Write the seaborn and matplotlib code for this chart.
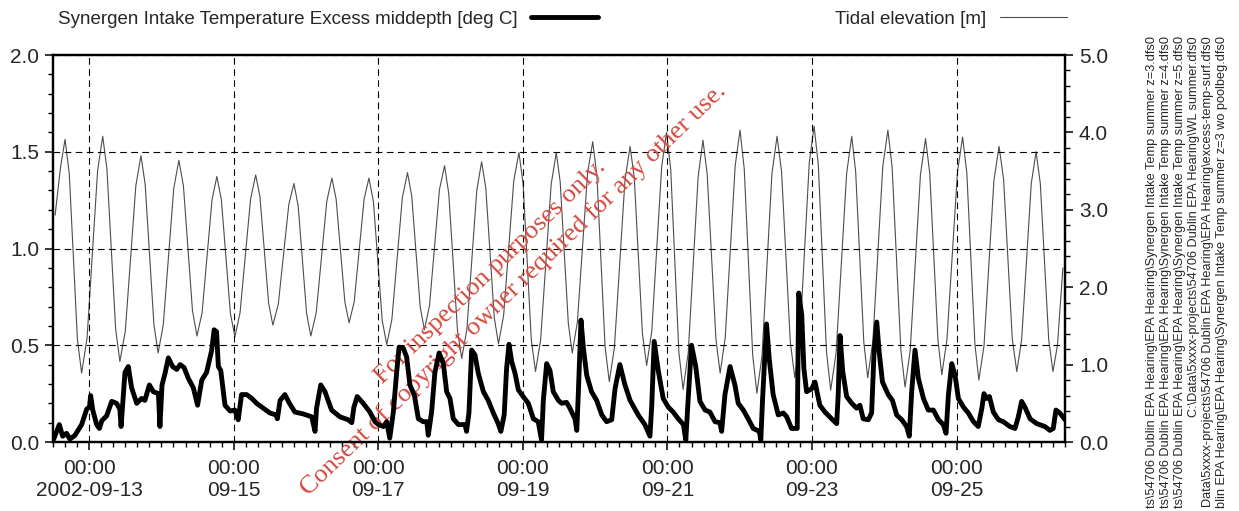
import matplotlib
matplotlib.use("Agg")
import matplotlib.pyplot as plt
import matplotlib.dates as mdates
from matplotlib.ticker import MultipleLocator, FixedLocator, FixedFormatter, FormatStrFormatter
import pandas as pd
import seaborn as sns

# time axis: hours counted from the left edge of the plot
START = pd.Timestamp("2002-09-12 12:00")
END = pd.Timestamp("2002-09-26 12:00")

temp_label = "Synergen Intake Temperature Excess middepth [deg C]"
tide_label = "Tidal elevation [m]"

# intake temperature excess (left axis)
temp_hours = [
    0.1, 2.1, 3.2, 4.5, 5.6, 7.3, 9.5, 11.2, 12.1, 12.5,
    13.2, 14.5, 15.4, 16.2, 17.8, 19.5, 21.1, 22.2, 22.6, 23.1,
    23.9, 25.0, 26.1, 27.8, 29.4, 30.5, 32.0, 33.3, 35.0, 35.5,
    36.2, 37.2, 38.3, 39.7, 41.1, 42.2, 43.5, 44.9, 46.6, 48.0,
    49.4, 51.0, 52.7, 53.5, 54.3, 54.9, 55.7, 57.1, 58.8, 60.4,
    61.5, 62.6, 64.3, 66.0, 67.6, 69.8, 72.0, 74.0, 74.5, 75.4,
    77.0, 78.5, 80.3, 83.1, 85.9, 87.0, 87.5, 88.9, 90.3, 92.5,
    95.3, 98.0, 99.2, 99.9, 101.0, 103.0, 105.2, 106.9, 108.0, 109.7,
    110.8, 111.8, 113.0, 114.1, 114.9, 116.3, 117.4, 118.5, 120.0, 121.3,
    122.9, 124.1, 124.6, 125.7, 126.8, 128.2, 129.6, 130.7, 131.8, 132.9,
    134.6, 136.8, 137.3, 138.1, 139.0, 140.1, 141.2, 142.9, 144.5, 146.2,
    147.8, 148.7, 149.8, 150.6, 151.4, 152.3, 153.4, 154.5, 156.1, 157.8,
    159.5, 161.1, 162.2, 162.8, 163.9, 165.0, 166.1, 167.8, 168.9, 170.5,
    171.6, 173.3, 173.9, 174.4, 175.3, 176.1, 177.2, 178.8, 180.5, 182.2,
    183.8, 185.5, 186.6, 188.2, 189.9, 191.6, 194.3, 196.5, 198.2, 198.8,
    199.6, 201.0, 202.6, 204.3, 205.9, 207.6, 209.3, 210.1, 210.9, 212.0,
    213.4, 214.8, 216.5, 218.1, 219.8, 221.4, 222.0, 223.1, 224.8, 226.4,
    227.5, 229.2, 230.8, 232.5, 234.5, 235.0, 235.6, 236.9, 237.8, 239.1,
    240.8, 242.5, 243.6, 245.2, 247.1, 247.6, 248.6, 249.3, 250.2, 251.9,
    253.0, 253.8, 254.6, 256.3, 258.5, 260.2, 260.7, 261.3, 262.2, 263.5,
    265.2, 266.8, 267.9, 269.0, 270.7, 271.8, 272.6, 273.5, 274.3, 275.4,
    277.3, 278.7, 280.1, 281.8, 283.4, 284.3, 285.1, 286.2, 287.3, 289.0,
    290.6, 292.3, 294.0, 295.6, 296.5, 297.3, 298.4, 299.5, 300.6, 302.3,
    303.9, 305.6, 307.2, 308.4, 309.1, 310.0, 310.9, 312.2, 313.9, 315.5,
    317.7, 319.4, 320.5, 321.6, 322.7, 324.4, 326.6, 329.3, 331.0, 332.1,
    333.0, 334.3, 336.0,
]
temp_degc = [
    0.01, 0.09, 0.03, 0.045, 0.015, 0.035, 0.09, 0.17, 0.18, 0.24,
    0.165, 0.09, 0.07, 0.11, 0.135, 0.21, 0.20, 0.17, 0.08, 0.19,
    0.36, 0.39, 0.28, 0.20, 0.225, 0.215, 0.295, 0.26, 0.25, 0.08,
    0.295, 0.355, 0.435, 0.39, 0.375, 0.40, 0.385, 0.33, 0.28, 0.19,
    0.32, 0.36, 0.475, 0.58, 0.57, 0.39, 0.37, 0.19, 0.16, 0.165,
    0.115, 0.245, 0.245, 0.225, 0.20, 0.175, 0.15, 0.14, 0.12, 0.215,
    0.245, 0.20, 0.155, 0.145, 0.13, 0.055, 0.175, 0.295, 0.26, 0.165,
    0.13, 0.115, 0.10, 0.18, 0.235, 0.20, 0.155, 0.105, 0.09, 0.08,
    0.105, 0.02, 0.155, 0.36, 0.49, 0.485, 0.44, 0.295, 0.24, 0.12,
    0.105, 0.105, 0.035, 0.155, 0.36, 0.46, 0.405, 0.26, 0.225, 0.12,
    0.09, 0.09, 0.055, 0.15, 0.475, 0.45, 0.355, 0.26, 0.215, 0.15,
    0.095, 0.055, 0.14, 0.38, 0.505, 0.415, 0.355, 0.27, 0.235, 0.20,
    0.12, 0.105, 0.01, 0.215, 0.405, 0.37, 0.26, 0.215, 0.20, 0.205,
    0.175, 0.12, 0.06, 0.245, 0.63, 0.485, 0.345, 0.26, 0.215, 0.14,
    0.105, 0.115, 0.275, 0.40, 0.295, 0.215, 0.14, 0.09, 0.03, 0.19,
    0.52, 0.365, 0.225, 0.18, 0.155, 0.12, 0.09, 0.01, 0.225, 0.50,
    0.39, 0.21, 0.165, 0.155, 0.105, 0.10, 0.055, 0.245, 0.39, 0.295,
    0.20, 0.165, 0.12, 0.07, 0.055, 0.01, 0.225, 0.61, 0.43, 0.245,
    0.14, 0.15, 0.13, 0.07, 0.07, 0.77, 0.655, 0.38, 0.26, 0.275,
    0.31, 0.25, 0.19, 0.155, 0.12, 0.095, 0.245, 0.55, 0.365, 0.235,
    0.20, 0.175, 0.19, 0.12, 0.115, 0.15, 0.465, 0.62, 0.465, 0.31,
    0.245, 0.215, 0.14, 0.115, 0.08, 0.03, 0.26, 0.475, 0.33, 0.225,
    0.165, 0.165, 0.115, 0.09, 0.045, 0.245, 0.405, 0.345, 0.225, 0.18,
    0.15, 0.105, 0.08, 0.175, 0.25, 0.225, 0.235, 0.155, 0.115, 0.105,
    0.08, 0.07, 0.13, 0.21, 0.18, 0.12, 0.095, 0.08, 0.06, 0.07,
    0.165, 0.15, 0.115,
]

# tidal elevation (right axis): high water, two falling readings, low water, two rising readings
tide_hours = [
    0.7, 2.5,
    4.0, 5.4, 8.1, 9.5, 11.3, 14.8,
    16.5, 17.9, 20.8, 22.2, 24.0, 27.5,
    29.2, 30.6, 33.5, 34.9, 36.6, 40.1,
    41.8, 43.3, 46.3, 47.8, 49.5, 52.8,
    54.4, 55.9, 58.9, 60.4, 62.1, 65.6,
    67.3, 68.7, 71.6, 73.0, 74.8, 78.3,
    80.0, 81.4, 84.2, 85.6, 87.4, 90.9,
    92.6, 94.0, 96.9, 98.3, 100.0, 103.3,
    104.9, 106.4, 109.3, 110.8, 112.5, 116.0,
    117.7, 119.1, 121.9, 123.3, 125.0, 128.3,
    130.0, 131.4, 134.3, 135.7, 137.4, 140.7,
    142.3, 143.7, 146.5, 147.9, 149.6, 153.0,
    154.7, 156.1, 158.8, 160.2, 161.9, 165.4,
    167.1, 168.4, 171.1, 172.4, 174.1, 177.5,
    179.2, 180.6, 183.3, 184.7, 186.4, 189.9,
    191.6, 193.0, 195.7, 197.1, 198.8, 202.1,
    203.7, 205.1, 207.8, 209.2, 210.9, 214.2,
    215.8, 217.2, 220.1, 221.5, 223.2, 226.5,
    228.1, 229.5, 232.3, 233.7, 235.4, 238.7,
    240.4, 241.9, 244.8, 246.3, 247.9, 251.1,
    252.7, 254.1, 256.8, 258.2, 260.0, 263.5,
    265.2, 266.5, 269.2, 270.5, 272.2, 275.5,
    277.2, 278.6, 281.5, 282.9, 284.6, 288.0,
    289.7, 291.1, 293.8, 295.1, 296.8, 300.3,
    302.0, 303.4, 306.1, 307.4, 309.1, 312.4,
    314.1, 315.6, 318.5, 320.0, 321.6, 324.8,
    326.4, 327.8, 330.6, 332.0, 333.5, 335.3,
]
tide_m = [
    2.93, 3.55,
    3.91, 3.47, 1.33, 0.89, 1.34, 3.50,
    3.95, 3.53, 1.46, 1.04, 1.43, 3.31,
    3.70, 3.33, 1.52, 1.15, 1.51, 3.28,
    3.64, 3.31, 1.70, 1.37, 1.67, 3.13,
    3.43, 3.13, 1.66, 1.36, 1.67, 3.14,
    3.45, 3.17, 1.79, 1.51, 1.78, 3.07,
    3.34, 3.05, 1.66, 1.37, 1.67, 3.11,
    3.41, 3.14, 1.81, 1.54, 1.81, 3.14,
    3.41, 3.10, 1.57, 1.26, 1.58, 3.16,
    3.48, 3.18, 1.75, 1.45, 1.76, 3.26,
    3.57, 3.21, 1.44, 1.08, 1.45, 3.25,
    3.62, 3.28, 1.61, 1.27, 1.63, 3.38,
    3.74, 3.33, 1.32, 0.91, 1.32, 3.33,
    3.74, 3.36, 1.53, 1.15, 1.55, 3.48,
    3.88, 3.43, 1.23, 0.78, 1.22, 3.38,
    3.82, 3.41, 1.40, 0.99, 1.43, 3.56,
    4.00, 3.52, 1.16, 0.68, 1.15, 3.43,
    3.90, 3.46, 1.33, 0.89, 1.35, 3.57,
    4.03, 3.53, 1.13, 0.63, 1.11, 3.47,
    3.95, 3.49, 1.29, 0.83, 1.30, 3.61,
    4.08, 3.58, 1.17, 0.67, 1.15, 3.47,
    3.95, 3.49, 1.29, 0.83, 1.30, 3.56,
    4.03, 3.55, 1.19, 0.71, 1.18, 3.45,
    3.92, 3.47, 1.32, 0.87, 1.32, 3.49,
    3.94, 3.48, 1.26, 0.80, 1.24, 3.38,
    3.82, 3.40, 1.33, 0.91, 1.32, 3.34,
    3.75, 3.34, 1.32, 0.91, 1.25, 2.25,
]

tick_days = ["2002-09-13", "2002-09-15", "2002-09-17", "2002-09-19",
             "2002-09-21", "2002-09-23", "2002-09-25"]
tick_labels = ["00:00\n2002-09-13", "00:00\n09-15", "00:00\n09-17", "00:00\n09-19",
               "00:00\n09-21", "00:00\n09-23", "00:00\n09-25"]

# the part of each source path that shows on the right margin
file_paths = [
    r"ts\54706 Dublin EPA Hearing\EPA Hearing\Synergen Intake Temp summer z=3.dfs0",
    r"ts\54706 Dublin EPA Hearing\EPA Hearing\Synergen Intake Temp summer z=4.dfs0",
    r"ts\54706 Dublin EPA Hearing\EPA Hearing\Synergen Intake Temp summer z=5.dfs0",
    r"C:\Data\5xxxx-projects\54706 Dublin EPA Hearing\WL summer.dfs0",
    r"Data\5xxxx-projects\54706 Dublin EPA Hearing\EPA Hearing\excess-temp-surf.dfs0",
    r"blin EPA Hearing\EPA Hearing\Synergen Intake Temp summer z=3 wo poolbeg.dfs0",
]
watermark = ["For inspection purposes only.",
             "Consent of copyright owner required for any other use."]

temp = pd.DataFrame({"time": START + pd.to_timedelta(temp_hours, unit="h"), "value": temp_degc})
tide = pd.DataFrame({"time": START + pd.to_timedelta(tide_hours, unit="h"), "value": tide_m})

sns.set_style("ticks")
plt.rcParams["font.family"] = ["Liberation Sans", "DejaVu Sans"]

W, H = 1239, 511
fig = plt.figure(figsize=(W / 100, H / 100), dpi=100)
ax = fig.add_axes([53 / W, 69 / H, 1012 / W, 387 / H])
ax2 = ax.twinx()
# keep the temperature line above the tide line
ax.set_zorder(ax2.get_zorder() + 1)
ax.patch.set_visible(False)

sns.lineplot(data=tide, x="time", y="value", ax=ax2, color="#4d4d4d",
             lw=0.8, legend=False)
sns.lineplot(data=temp, x="time", y="value", ax=ax, color="black",
             lw=3.5, legend=False, zorder=3)

ax.set_xlim(START, END)
ax.set_ylim(0, 2)
ax2.set_ylim(0, 5)
ax.set_xlabel("")
ax.set_ylabel("")
ax2.set_xlabel("")
ax2.set_ylabel("")

ax.xaxis.set_major_locator(FixedLocator(mdates.date2num(pd.to_datetime(tick_days))))
ax.xaxis.set_major_formatter(FixedFormatter(tick_labels))
ax.xaxis.set_minor_locator(mdates.HourLocator(byhour=range(0, 24, 4)))
ax.yaxis.set_major_locator(MultipleLocator(0.5))
ax.yaxis.set_minor_locator(MultipleLocator(0.1))
ax.yaxis.set_major_formatter(FormatStrFormatter("%.1f"))
ax2.yaxis.set_major_locator(MultipleLocator(1.0))
ax2.yaxis.set_minor_locator(MultipleLocator(0.2))
ax2.yaxis.set_major_formatter(FormatStrFormatter("%.1f"))

for a in (ax, ax2):
    a.tick_params(which="major", direction="out", length=6, width=1.1,
                  labelsize=15, color="black", pad=4)
    a.tick_params(which="minor", direction="out", length=3.5, width=1, color="black")
    for s in a.spines.values():
        s.set_visible(True)
        s.set_linewidth(1.6)
        s.set_color("black")
ax.tick_params(axis="x", which="major", pad=6)

ax.grid(True, which="major", color="black", ls=(0, (6, 4)), lw=0.8)

# watermark across the plot
ax.text(0.432, 0.439, watermark[0], transform=ax.transAxes, rotation=44,
        rotation_mode="anchor", ha="center", va="center", fontsize=19,
        family="Liberation Serif", color="#d4493e", zorder=1)
ax.text(0.455, 0.395, watermark[1], transform=ax.transAxes, rotation=44,
        rotation_mode="anchor", ha="center", va="center", fontsize=19,
        family="Liberation Serif", color="#d4493e", zorder=1)

# legend entries sit above the plot, text first, then the line sample
fig.legend(handles=[ax.lines[0]], labels=[temp_label], loc="center right",
           bbox_to_anchor=(598 / W, 1 - 19 / H), markerfirst=False, frameon=False,
           fontsize=13.5, handlelength=3.6, handletextpad=0.7,
           borderpad=0, borderaxespad=0)
fig.legend(handles=[ax2.lines[0]], labels=[tide_label], loc="center right",
           bbox_to_anchor=(1067 / W, 1 - 19 / H), markerfirst=False, frameon=False,
           fontsize=13.5, handlelength=3.6, handletextpad=0.7,
           borderpad=0, borderaxespad=0)

# source file names printed sideways on the right margin
for i, path in enumerate(file_paths):
    fig.text((1152 + 14 * i) / W, 1 - 36 / H, path, rotation=90,
             ha="center", va="top", fontsize=9.2)

fig.savefig("out.png", dpi=100)
